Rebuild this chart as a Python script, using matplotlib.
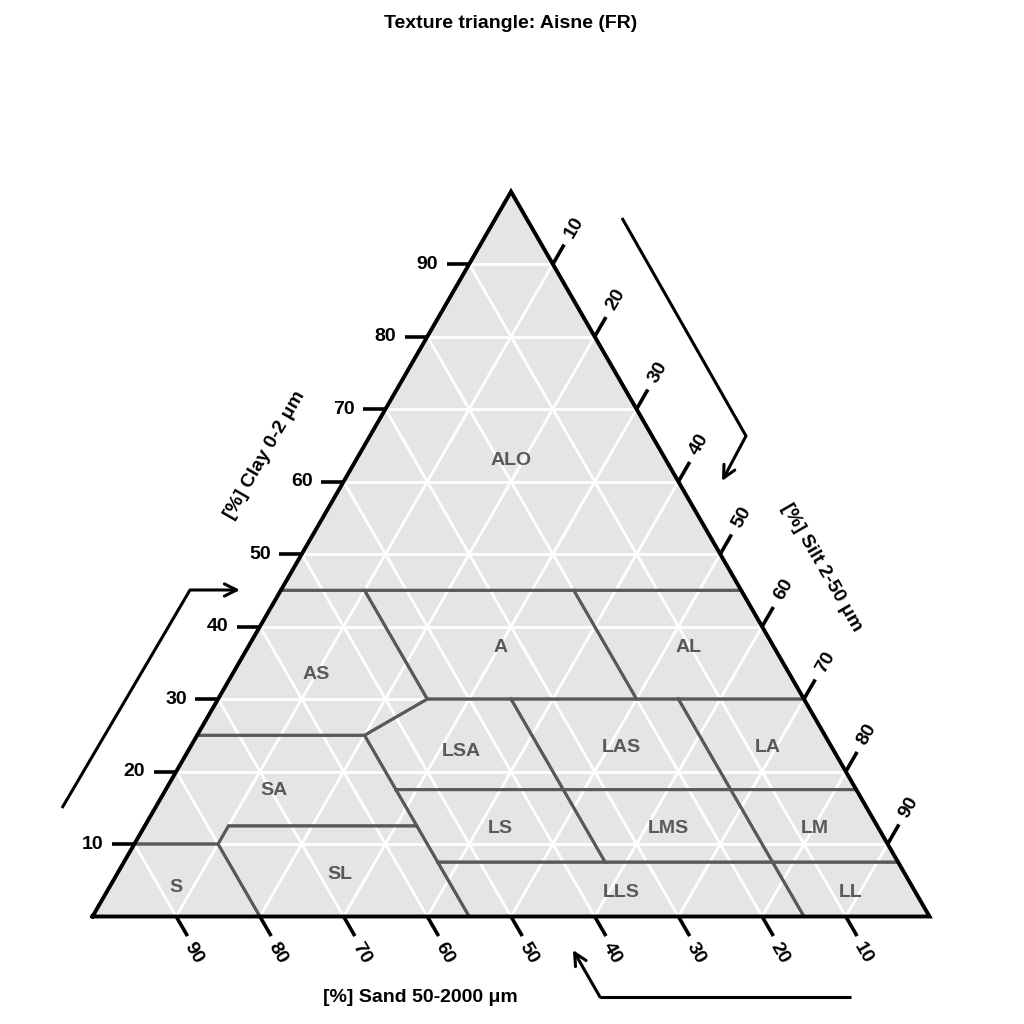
import numpy as np
import matplotlib
matplotlib.use("Agg")
import matplotlib.pyplot as plt

plt.rcParams['font.family'] = ['Liberation Sans', 'DejaVu Sans']

TITLE = "Texture triangle: Aisne (FR)"
CLAY_LABEL = "[%] Clay 0-2 μm"
SILT_LABEL = "[%] Silt 2-50 μm"
SAND_LABEL = "[%] Sand 50-2000 μm"

# texture class vertices (percent), silt = 100 - clay - sand
PT_CLAY = [100, 45, 45, 45, 45, 30, 30, 30, 30, 30, 25, 25, 17.5, 17.5, 17.5, 17.5,
           12.5, 12.5, 10, 10, 7.5, 7.5, 7.5, 7.5, 0, 0, 0, 0, 0]
PT_SAND = [0, 55, 0, 45, 20, 45, 20, 0, 35, 15, 55, 75, 55, 35, 15, 0,
           55, 77.5, 80, 90, 55, 35, 15, 0, 100, 80, 55, 15, 0]

CLASS_NAMES = ["ALO", "AS", "A", "AL", "LSA", "LAS", "LA", "SA", "LS", "LMS",
               "LM", "S", "SL", "LLS", "LL"]
CLASS_POLYS = [
    [0, 2, 1],
    [1, 3, 5, 10, 11],
    [3, 4, 6, 5],
    [4, 2, 7, 6],
    [5, 8, 13, 12, 10],
    [8, 9, 14, 13],
    [9, 7, 15, 14],
    [11, 10, 12, 16, 17, 18, 19],
    [12, 13, 21, 20, 16],
    [13, 14, 22, 21],
    [14, 15, 23, 22],
    [19, 18, 25, 24],
    [18, 17, 16, 20, 26, 25],
    [20, 21, 22, 27, 26],
    [22, 23, 28, 27],
]
TICKS = [10, 20, 30, 40, 50, 60, 70, 80, 90]

R3 = np.sqrt(3) / 2


def to_xy(clay, sand):
    clay = np.asarray(clay, float)
    sand = np.asarray(sand, float)
    silt = 100 - clay - sand
    return silt + clay / 2, clay * R3


# pixel geometry
S = 8.37
X0PX, Y0PX = 92.5, 916.5
fig = plt.figure(figsize=(10.24, 10.24), dpi=100)
ax = fig.add_axes([0, 0, 1, 1])
ax.set_xlim(-X0PX / S, (1024 - X0PX) / S)
ax.set_ylim(-(1024 - Y0PX) / S, Y0PX / S)
ax.axis('off')


def px(xp, yp):
    return (xp - X0PX) / S, (Y0PX - yp) / S


GRAY_BG = "#E5E5E5"
CLS_COL = "#595959"
FS = 14

# background
tx, ty = to_xy([0, 0, 100], [100, 0, 0])
ax.fill(tx, ty, color=GRAY_BG, zorder=1, lw=0)

# grid
for v in TICKS:
    x, y = to_xy([v, v], [100 - v, 0])
    ax.plot(x, y, color="white", lw=2.0, zorder=2)
    x, y = to_xy([0, 100 - v], [100 - v, 0])
    ax.plot(x, y, color="white", lw=2.0, zorder=2)
    x, y = to_xy([0, 100 - v], [v, v])
    ax.plot(x, y, color="white", lw=2.0, zorder=2)

# classes
for name, poly in zip(CLASS_NAMES, CLASS_POLYS):
    c = [PT_CLAY[i] for i in poly]
    s = [PT_SAND[i] for i in poly]
    x, y = to_xy(c, s)
    xc, yc = np.append(x, x[0]), np.append(y, y[0])
    ax.plot(xc, yc, color=CLS_COL, lw=2.1, zorder=3, solid_joinstyle='miter')
    cr = xc[:-1] * yc[1:] - xc[1:] * yc[:-1]
    A = cr.sum() / 2
    cx = ((xc[:-1] + xc[1:]) * cr).sum() / (6 * A)
    cy = ((yc[:-1] + yc[1:]) * cr).sum() / (6 * A)
    ax.text(cx, cy - 3 / S, name, color=CLS_COL, fontsize=FS, fontweight='bold',
            ha='center', va='center', zorder=5)

# border
ax.plot(np.append(tx, tx[0]), np.append(ty, ty[0]), color="black", lw=2.8,
        zorder=4, solid_joinstyle='miter', solid_capstyle='projecting')

TL = 2.7   # tick length (units)
c60, s60 = 0.5, R3
for v in TICKS:
    # clay ticks (left edge, horizontal)
    x, y = to_xy(v, 100 - v)
    ax.plot([x, x - TL], [y, y], color="black", lw=2.6, zorder=4, solid_capstyle='butt')
    ax.text(x - 5.0, y, str(v), fontsize=FS, fontweight='bold', ha='center', va='center')
    # silt ticks (right edge, up-right)
    x, y = to_xy(100 - v, 0)
    ax.plot([x, x + TL * c60], [y, y + TL * s60], color="black", lw=2.6, zorder=4,
            solid_capstyle='butt')
    ax.text(x + 5.1 * c60, y + 5.1 * s60, str(v), fontsize=FS, fontweight='bold',
            ha='center', va='center', rotation=60, rotation_mode='anchor')
    # sand ticks (bottom edge, down-right)
    x, y = to_xy(0, v)
    ax.plot([x, x + TL * c60], [y, y - TL * s60], color="black", lw=2.6, zorder=4,
            solid_capstyle='butt')
    ax.text(x + 2.1, y - 4.4, str(v), fontsize=FS, fontweight='bold',
            ha='center', va='center', rotation=-60, rotation_mode='anchor')

# title and axis labels
fig.text(511 / 1024, 1 - 23 / 1024, TITLE, fontsize=FS, fontweight='bold',
         ha='center', va='center')
ax.text(*px(265, 455), CLAY_LABEL, fontsize=FS, fontweight='bold', rotation=60,
        ha='center', va='center', rotation_mode='anchor')
ax.text(*px(822, 568), SILT_LABEL, fontsize=FS, fontweight='bold', rotation=-60,
        ha='center', va='center', rotation_mode='anchor')
ax.text(*px(420, 997), SAND_LABEL, fontsize=FS, fontweight='bold',
        ha='center', va='center')


def arrow(pts):
    p = [px(*q) for q in pts]
    xs, ys = zip(*p[:-1])
    ax.plot(xs, ys, color="black", lw=2.2, solid_capstyle='butt', zorder=4)
    ax.annotate("", xy=p[-1], xytext=p[-2],
                arrowprops=dict(arrowstyle="->", lw=2.2, color="black",
                                mutation_scale=22, shrinkA=0, shrinkB=0))


arrow([(62, 808), (190, 590), (240, 590)])
arrow([(622, 218), (746, 436), (722, 481)])
arrow([(851, 997), (600, 997), (573, 950)])

fig.savefig("out.png", dpi=100, facecolor="white")
